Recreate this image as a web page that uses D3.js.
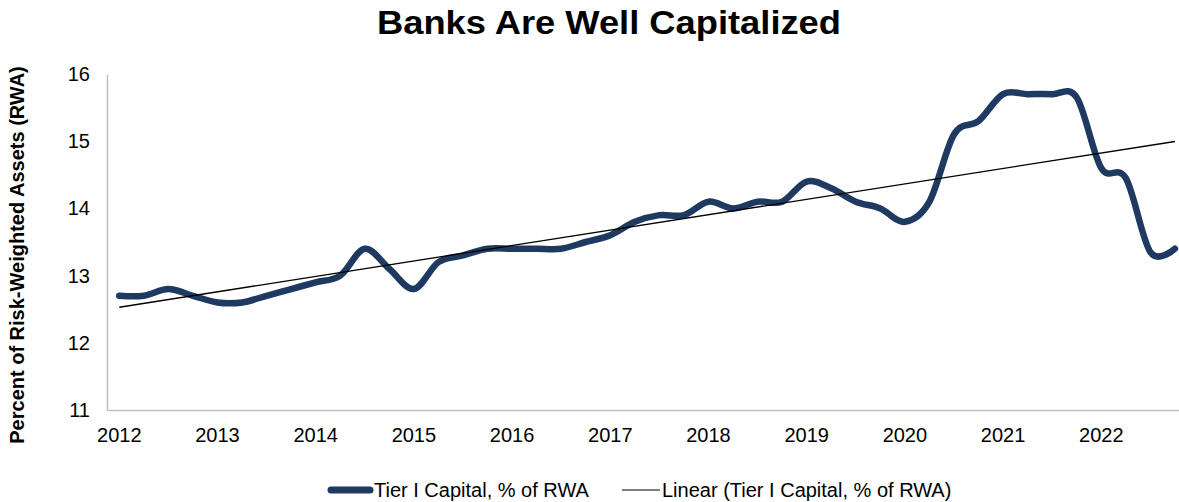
<!DOCTYPE html>
<html>
<head>
<meta charset="utf-8">
<script src="https://cdn.jsdelivr.net/npm/d3@7"></script>
<style>
  body { margin: 0; background: #fff; }
  text { font-family: "Liberation Sans", Arial, sans-serif; }
</style>
</head>
<body>
<div id="chart"></div>
<script>
// quarterly data, 2012 Q1 .. 2022 Q4
const years = ["2012","2013","2014","2015","2016","2017","2018","2019","2020","2021","2022"]
const quarterLabels = years.flatMap(y => ["Q1","Q2","Q3","Q4"].map(q => y + " " + q))
const tierOne = [
  12.7, 12.7, 12.8, 12.7,
  12.6, 12.6, 12.7, 12.8,
  12.9, 13.0, 13.4, 13.1,
  12.8, 13.2, 13.3, 13.4,
  13.4, 13.4, 13.4, 13.5,
  13.6, 13.8, 13.9, 13.9,
  14.1, 14.0, 14.1, 14.1,
  14.4, 14.3, 14.1, 14.0,
  13.8, 14.1, 15.1, 15.3,
  15.7, 15.7, 15.7, 15.65,
  14.6, 14.45, 13.35, 13.4
]
const yTicks = [11, 12, 13, 14, 15, 16]

const W = 1179, H = 502
const svg = d3.select("#chart").append("svg")
  .attr("width", W)
  .attr("height", H)

const plotLeft = 107, plotTop = 74, plotBottom = 410
const step = 24.55

const x = d3.scaleBand()
  .domain(quarterLabels)
  .range([plotLeft, plotLeft + step * quarterLabels.length])
  .paddingInner(0).paddingOuter(0)
const cx = d => x(d) + x.bandwidth() / 2

const y = d3.scaleLinear()
  .domain([11, 16])
  .range([plotBottom, plotTop])

// title
svg.append("text")
  .attr("x", 609)
  .attr("y", 34)
  .attr("text-anchor", "middle")
  .attr("font-size", 34)
  .attr("font-weight", "bold")
  .attr("textLength", 464)
  .attr("lengthAdjust", "spacingAndGlyphs")
  .text("Banks Are Well Capitalized")

// y axis
const yAxis = svg.append("g")
  .attr("transform", `translate(${plotLeft},0)`)
  .call(d3.axisLeft(y).tickValues(yTicks).tickSize(0).tickPadding(17).tickFormat(d3.format("d")))
yAxis.select(".domain").attr("stroke", "#bfbfbf").attr("stroke-width", 1.5)
yAxis.selectAll("text").attr("font-size", 20).attr("fill", "#000")
  .attr("font-family", "Liberation Sans, Arial, sans-serif")

// x axis
const xAxis = svg.append("g")
  .attr("transform", `translate(0,${plotBottom})`)
  .call(d3.axisBottom(x)
    .tickValues(quarterLabels.filter((d, i) => i % 4 == 0))
    .tickSize(0).tickPadding(18)
    .tickFormat(d => d.slice(0, 4)))
xAxis.select(".domain").attr("stroke", "#bfbfbf").attr("stroke-width", 1.5)
xAxis.selectAll("text").attr("font-size", 20).attr("fill", "#000")
  .attr("font-family", "Liberation Sans, Arial, sans-serif")

// y title
svg.append("text")
  .attr("transform", "translate(19,255) rotate(-90)")
  .attr("text-anchor", "middle")
  .attr("dominant-baseline", "middle")
  .attr("font-size", 20)
  .attr("font-weight", "bold")
  .text("Percent of Risk-Weighted Assets (RWA)")

const series = quarterLabels.map((q, i) => ({ q: q, v: tierOne[i] }))

// linear trend (least squares on quarter index)
const n = tierOne.length
const mx = d3.mean(d3.range(n))
const my = d3.mean(tierOne)
let sxy = 0, sxx = 0
for (let i = 0; i < n; i++) {
  sxy += (i - mx) * (tierOne[i] - my)
  sxx += (i - mx) * (i - mx)
}
const slope = sxy / sxx
const intercept = my - slope * mx
const trend = [0, n - 1].map(i => ({ q: quarterLabels[i], v: intercept + slope * i }))

const line = d3.line()
  .x(d => cx(d.q))
  .y(d => y(d.v))

svg.append("path")
  .datum(series)
  .attr("fill", "none")
  .attr("stroke", "#1f3a60")
  .attr("stroke-width", 6.5)
  .attr("stroke-linejoin", "round")
  .attr("stroke-linecap", "round")
  .attr("d", line.curve(d3.curveCardinal.tension(0)))

svg.append("path")
  .datum(trend)
  .attr("fill", "none")
  .attr("stroke", "#000")
  .attr("stroke-width", 1.3)
  .attr("d", d3.line().x(d => cx(d.q)).y(d => y(d.v)))

// legend
const lg = svg.append("g")
lg.append("line")
  .attr("x1", 331).attr("x2", 370).attr("y1", 490).attr("y2", 490)
  .attr("stroke", "#1f3a60").attr("stroke-width", 7).attr("stroke-linecap", "round")
lg.append("text")
  .attr("x", 374).attr("y", 497)
  .attr("font-size", 20)
  .text("Tier I Capital, % of RWA")
lg.append("line")
  .attr("x1", 622).attr("x2", 660).attr("y1", 490).attr("y2", 490)
  .attr("stroke", "#000").attr("stroke-width", 1.2)
lg.append("text")
  .attr("x", 662).attr("y", 497)
  .attr("font-size", 20)
  .text("Linear (Tier I Capital, % of RWA)")
</script>
</body>
</html>
